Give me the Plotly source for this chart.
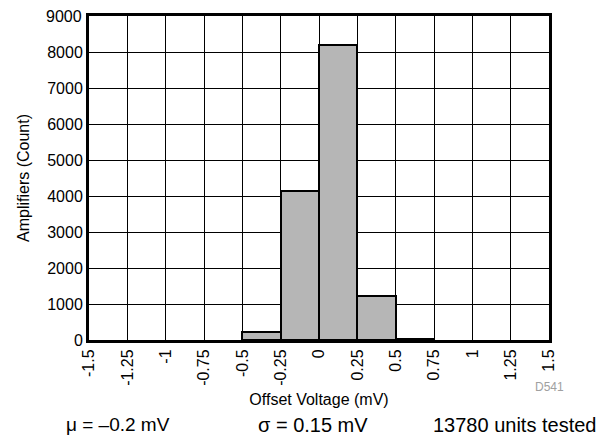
import plotly.graph_objects as go

# histogram data
bin_left = [-0.5, -0.25, 0.0, 0.25, 0.5]
counts = [230, 4150, 8200, 1220, 30]
bin_width = 0.25

x_ticks = [-1.5, -1.25, -1, -0.75, -0.5, -0.25, 0, 0.25, 0.5, 0.75, 1, 1.25, 1.5]
x_labels = ["-1.5", "-1.25", "-1", "-0.75", "-0.5", "-0.25", "0", "0.25",
            "0.5", "0.75", "1", "1.25", "1.5"]
y_ticks = [0, 1000, 2000, 3000, 4000, 5000, 6000, 7000, 8000, 9000]
y_top = 9000

font = "Liberation Sans, Arial, sans-serif"

fig = go.Figure()
fig.add_trace(
    go.Bar(
        x=[b + bin_width / 2 for b in bin_left],
        y=counts,
        width=bin_width,
        marker=dict(color="#b6b6b6", line=dict(color="black", width=2)),
        showlegend=False,
    )
)

# page body has an 8px margin, so the figure is shrunk and shifted to fit
fig.update_layout(
    width=605,
    height=433,
    margin=dict(l=81, r=64, t=8, b=101),
    plot_bgcolor="white",
    paper_bgcolor="white",
    font=dict(family=font, color="black"),
    xaxis=dict(
        range=[-1.5, 1.5],
        tickvals=x_ticks,
        ticktext=x_labels,
        tickangle=-90,
        tickfont=dict(size=16),
        showgrid=True,
        gridcolor="black",
        gridwidth=1,
        showline=True,
        linecolor="black",
        linewidth=3,
        mirror=True,
        zeroline=False,
        ticks="",
        automargin=False,
        title=dict(text="Offset Voltage (mV)", font=dict(size=16), standoff=9),
    ),
    yaxis=dict(
        range=[0, y_top],
        tickvals=y_ticks,
        tickformat="d",
        tickfont=dict(size=16),
        showgrid=True,
        gridcolor="black",
        gridwidth=1,
        showline=True,
        linecolor="black",
        linewidth=3,
        mirror=True,
        zeroline=False,
        ticks="",
        automargin=False,
        title=dict(text="Amplifiers (Count)", font=dict(size=16), standoff=14),
    ),
    bargap=0,
)

# top tick label gets dropped by plotly this close to the paper edge
fig.add_annotation(text=str(y_top), xref="paper", yref="y", x=0, y=y_top,
                   xanchor="right", yanchor="middle", xshift=-5, showarrow=False,
                   font=dict(size=16))
fig.add_annotation(text="D541", xref="paper", yref="paper", x=1.0, y=-0.145,
                   xanchor="center", yanchor="middle", showarrow=False,
                   font=dict(size=12, color="#a0a0a0"))
fig.add_annotation(text="μ = –0.2 mV", xref="paper", yref="paper", x=0.063, y=-0.262,
                   xanchor="center", yanchor="middle", showarrow=False,
                   font=dict(size=19))
fig.add_annotation(text="σ = 0.15 mV", xref="paper", yref="paper", x=0.487, y=-0.262,
                   xanchor="center", yanchor="middle", showarrow=False,
                   font=dict(size=20))
fig.add_annotation(text="13780 units tested", xref="paper", yref="paper", x=0.926, y=-0.262,
                   xanchor="center", yanchor="middle", showarrow=False,
                   font=dict(size=20))

fig.write_html("out.html")
